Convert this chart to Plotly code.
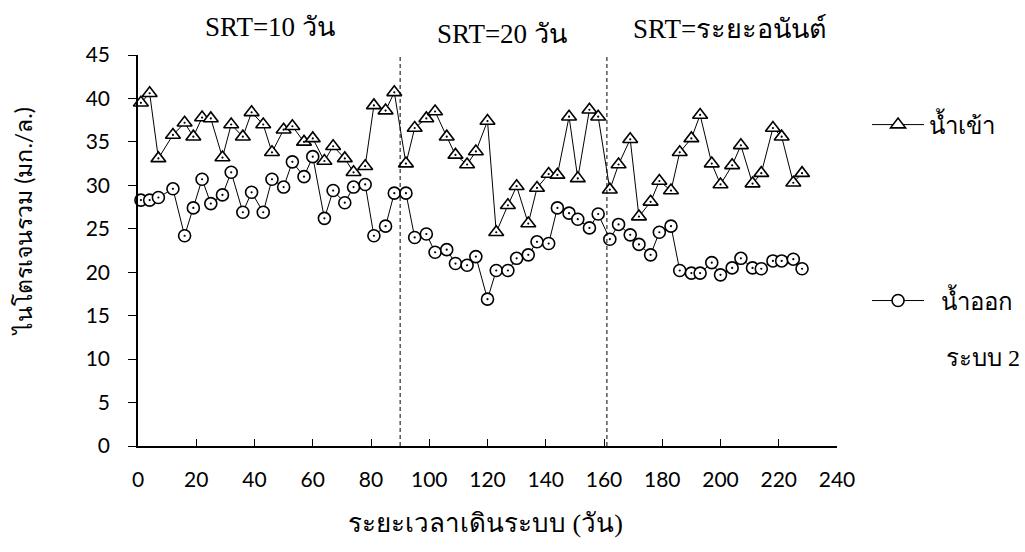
import plotly.graph_objects as go

# Sampling days (วัน) and total nitrogen (มก./ล.)
days = [1, 4, 7, 12, 16, 19, 22, 25, 29, 32,
        36, 39, 43, 46, 50, 53, 57, 60, 64, 67,
        71, 74, 78, 81, 85, 88, 92, 95, 99, 102,
        106, 109, 113, 116, 120, 123, 127, 130, 134, 137,
        141, 144, 148, 151, 155, 158, 162, 165, 169, 172,
        176, 179, 183, 186, 190, 193, 197, 200, 204, 207,
        211, 214, 218, 221, 225, 228]

influent_tn = [39.5, 40.6, 33.1, 35.8, 37.2, 35.6, 37.8, 37.7, 33.2, 37.0,
               35.6, 38.4, 37.0, 33.8, 36.4, 36.8, 35.0, 35.4, 32.8, 34.5,
               33.1, 31.5, 32.2, 39.2, 38.6, 40.7, 32.5, 36.6, 37.7, 38.5,
               35.6, 33.5, 32.4, 33.9, 37.4, 24.6, 27.7, 29.9, 25.6, 29.7,
               31.3, 31.2, 37.9, 30.8, 38.7, 37.9, 29.5, 32.4, 35.3, 26.4,
               28.1, 30.5, 29.4, 33.8, 35.4, 38.1, 32.5, 30.1, 32.3, 34.6,
               30.2, 31.4, 36.6, 35.6, 30.3, 31.4]

effluent_tn = [28.3, 28.3, 28.6, 29.6, 24.2, 27.4, 30.7, 27.9, 28.9, 31.5,
               26.9, 29.2, 26.9, 30.7, 29.8, 32.7, 31.0, 33.3, 26.2, 29.4,
               28.0, 29.8, 30.1, 24.2, 25.3, 29.1, 29.1, 24.0, 24.4, 22.3,
               22.6, 21.0, 20.8, 21.8, 16.9, 20.2, 20.2, 21.6, 22.0, 23.5,
               23.3, 27.4, 26.8, 26.1, 25.1, 26.7, 23.8, 25.5, 24.3, 23.2,
               22.0, 24.6, 25.3, 20.2, 19.9, 19.9, 21.1, 19.7, 20.5, 21.6,
               20.5, 20.4, 21.3, 21.3, 21.5, 20.4]

# SRT phase boundaries (day) and phase labels
phase_breaks = [90, 161]
phase_labels = ["SRT=10 วัน", "SRT=20 วัน", "SRT=ระยะอนันต์"]
phase_label_x = [0.189, 0.521, 0.847]
phase_label_y = [1.072, 1.053, 1.067]

x_ticks = list(range(0, 241, 20))
y_ticks = list(range(0, 46, 5))

SERIF = "Liberation Serif, Times New Roman, serif"
SANS = "Lato, Liberation Sans, sans-serif"
NBSP = "\u00a0"

fig = go.Figure()

fig.add_trace(go.Scatter(
    x=days, y=influent_tn, mode="lines+markers", name="น้ำเข้า",
    line=dict(color="black", width=1),
    marker=dict(symbol="triangle-up", size=13, color="white",
                line=dict(color="black", width=1.6)),
    cliponaxis=False, legend="legend",
))
fig.add_trace(go.Scatter(
    x=days, y=effluent_tn, mode="lines+markers",
    name=NBSP * 2 + "น้ำออก",
    line=dict(color="black", width=1),
    marker=dict(symbol="circle", size=12, color="white",
                line=dict(color="black", width=1.6)),
    cliponaxis=False, legend="legend2",
))
# small centre dots on each marker
for series in (influent_tn, effluent_tn):
    fig.add_trace(go.Scatter(
        x=days, y=series, mode="markers", showlegend=False, hoverinfo="skip",
        marker=dict(symbol="circle", size=2.2, color="black"),
        cliponaxis=False,
    ))

for xb in phase_breaks:
    fig.add_shape(type="line", xref="x", yref="y", x0=xb, x1=xb, y0=0, y1=47.4,
                  line=dict(color="black", width=1, dash="4px,3px"))

for txt, px, py in zip(phase_labels, phase_label_x, phase_label_y):
    fig.add_annotation(text=txt, xref="paper", yref="paper", x=px, y=py,
                       xanchor="center", yanchor="middle", showarrow=False,
                       font=dict(family=SERIF, size=27, color="black"))

# second line of the effluent legend entry
fig.add_annotation(text="ระบบ 2", xref="paper", yref="paper",
                   x=1.153, y=0.225, xanchor="left", yanchor="middle",
                   showarrow=False, font=dict(family=SERIF, size=24, color="black"))

# axis titles
fig.add_annotation(text="ระยะเวลาเดินระบบ (วัน)", xref="paper", yref="paper",
                   x=0.497, y=-0.197, xanchor="center", yanchor="middle",
                   showarrow=False, font=dict(family=SERIF, size=26, color="black"))
fig.add_annotation(text="ไนโตรเจนรวม (มก./ล.)", xref="paper", yref="paper",
                   x=-0.165, y=0.573, xanchor="center", yanchor="middle",
                   textangle=-90, showarrow=False,
                   font=dict(family=SANS, size=23, color="black"))

fig.update_layout(
    width=1025, height=552,
    margin=dict(l=138, r=188, t=55, b=106, autoexpand=False),
    paper_bgcolor="white", plot_bgcolor="white",
    legend=dict(x=1.043, y=0.821, xanchor="left", yanchor="middle",
                itemwidth=52, font=dict(family=SERIF, size=24, color="black"),
                bgcolor="rgba(0,0,0,0)"),
    legend2=dict(x=1.043, y=0.371, xanchor="left", yanchor="middle",
                 itemwidth=52, font=dict(family=SERIF, size=24, color="black"),
                 bgcolor="rgba(0,0,0,0)"),
    xaxis=dict(range=[0, 240], tickvals=x_ticks, ticks="inside", ticklen=7,
               tickcolor="black", tickwidth=1.3, showline=True, linecolor="black",
               linewidth=1.5, showgrid=False, zeroline=False,
               ticklabelstandoff=14,
               tickfont=dict(family=SANS, size=21, color="black")),
    yaxis=dict(range=[0, 45], tickvals=y_ticks, ticks="outside", ticklen=8,
               tickcolor="black", tickwidth=1.3, showline=True, linecolor="black",
               linewidth=1.5, showgrid=False, zeroline=False,
               ticklabelstandoff=14,
               tickfont=dict(family=SANS, size=21, color="black")),
)

fig.write_html("out.html")
